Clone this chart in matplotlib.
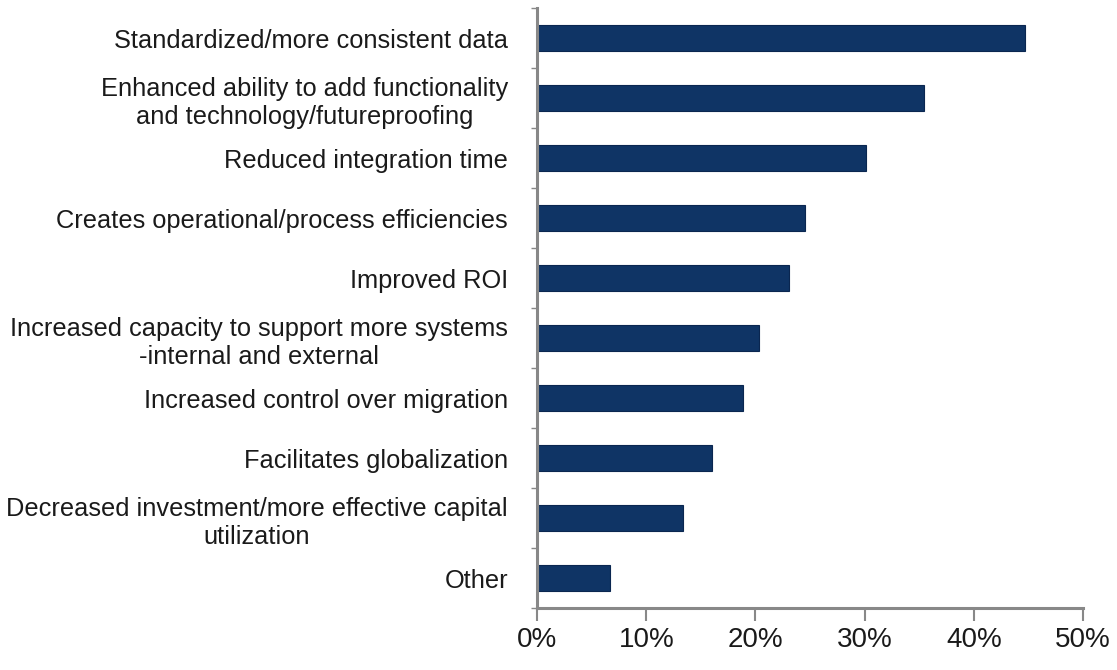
import matplotlib.pyplot as plt
import numpy as np
from matplotlib.ticker import FixedLocator, PercentFormatter

plt.rcParams['font.family'] = ['Liberation Sans', 'DejaVu Sans']

labels = [
    "Standardized/more consistent data",
    "Enhanced ability to add functionality\nand technology/futureproofing",
    "Reduced integration time",
    "Creates operational/process efficiencies",
    "Improved ROI",
    "Increased capacity to support more systems\n-internal and external",
    "Increased control over migration",
    "Facilitates globalization",
    "Decreased investment/more effective capital\nutilization",
    "Other",
]
values = [44.7, 35.4, 30.1, 24.5, 23.1, 20.3, 18.9, 16.0, 13.4, 6.7]

fig = plt.figure(figsize=(11.17, 6.7), dpi=100)
ax = fig.add_axes([0.4808, 0.0925, 0.9696 - 0.4808, 0.988 - 0.0925])

y = np.arange(len(labels))
ax.barh(y, values, height=0.43, color='#0f3465', edgecolor='#0a2650', linewidth=0.8)

ax.set_ylim(len(labels) - 0.5, -0.5)
ax.set_xlim(0, 50)

ax.set_yticks(y)
ax.set_yticklabels(labels, fontsize=18.3, color='#1a1a1a', linespacing=1.25,
                   ha='right', multialignment='center')
ax.yaxis.set_minor_locator(FixedLocator(np.arange(-0.5, len(labels), 1)))
ax.tick_params(axis='y', which='major', length=0, pad=21)
ax.tick_params(axis='y', which='minor', length=4, width=1, color='#888888')

ax.set_xticks(np.arange(0, 51, 10))
ax.xaxis.set_major_formatter(PercentFormatter(decimals=0))
ax.tick_params(axis='x', length=9, width=1.5, color='#888888', pad=5,
               labelsize=20, labelcolor='#1a1a1a')

for s in ['top', 'right']:
    ax.spines[s].set_visible(False)
for s in ['left', 'bottom']:
    ax.spines[s].set_color('#888888')
    ax.spines[s].set_linewidth(2.2)

fig.savefig("out.png", dpi=100)
